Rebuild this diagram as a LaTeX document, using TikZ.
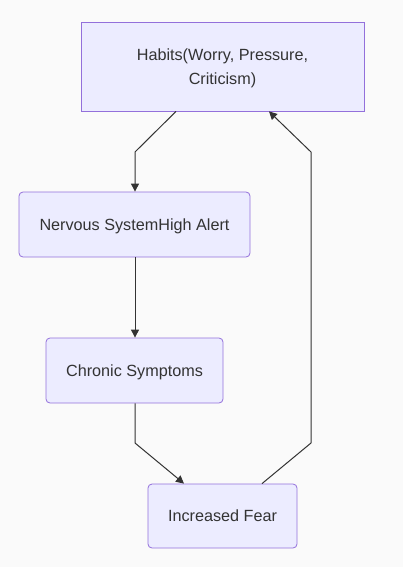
\documentclass[tikz,border=0pt]{standalone}
\usepackage{fontspec}
\setmainfont{Liberation Sans}
\usetikzlibrary{positioning,arrows.meta}
\usepackage{xcolor}
\definecolor{bg}{HTML}{FAFAFA}
\definecolor{boxfill}{HTML}{ECECFF}
\definecolor{boxline}{HTML}{9370DB}
\definecolor{ink}{HTML}{333333}
\definecolor{wire}{HTML}{333333}

\tikzset{
  stepbox/.style={draw=boxline,fill=boxfill,text=ink,line width=0.8pt,rounded corners=4pt,
    align=center,inner sep=0pt,text depth=0pt,font=\fontsize{16.2}{24}\selectfont},
  flow/.style={draw=wire,line width=1pt,-{Triangle[length=8pt,width=8pt]}}
}

\begin{document}
\begin{tikzpicture}[x=1pt,y=-1pt]
        \fill[bg] (0,0) rectangle (403,567);
        \useasboundingbox (0,0) rectangle (403,567);
        % boxes
        \node[stepbox,rounded corners=0pt,minimum width=283pt,minimum height=89pt] (habits) at (222.5,66.5)
          {Habits(Worry, Pressure,\\Criticism)};
        \node[stepbox,minimum width=231pt,minimum height=65pt] (alert) at (134.5,224.5) {Nervous SystemHigh Alert};
        \node[stepbox,minimum width=177pt,minimum height=65pt] (symptoms) at (134.5,370.5) {Chronic Symptoms};
        \node[stepbox,minimum width=149pt,minimum height=64pt] (fear) at (222.5,516) {Increased Fear};
        % links
        \draw[flow] (habits.south -| 176,0) -- (135,152) -- (alert.north -| 135,0);
        \draw[flow] (alert.south -| 135,0) -- (symptoms.north -| 135,0);
        \draw[flow] (symptoms.south -| 135,0) -- (135,443) -- (fear.north -| 184,0);
        \draw[flow] (fear.north -| 262,0) -- (311,443) -- (311,152) -- (habits.south -| 269,0);
      \end{tikzpicture}
\end{document}
